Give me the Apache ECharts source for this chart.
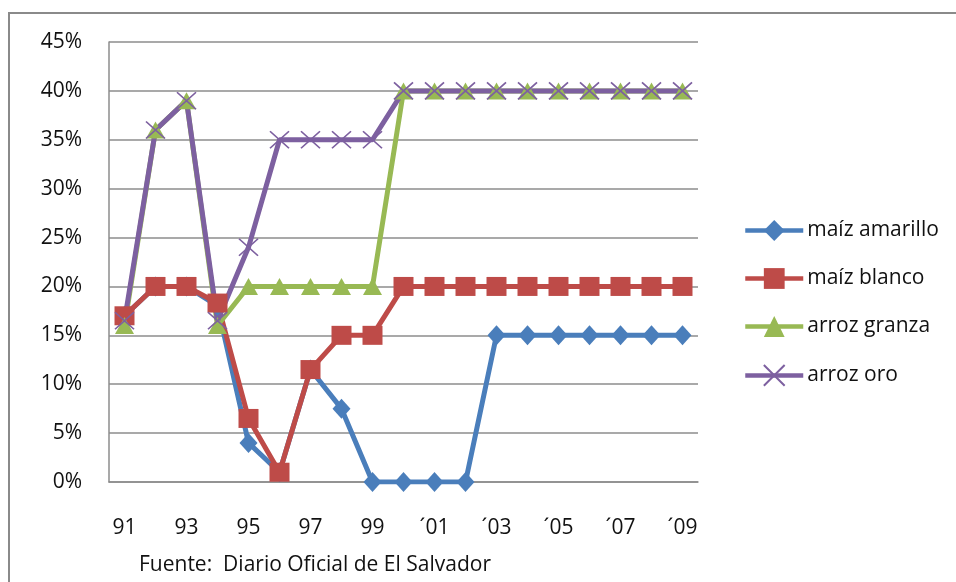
<!DOCTYPE html>
<html>
<head>
<meta charset="utf-8">
<script src="https://cdn.jsdelivr.net/npm/echarts@6/dist/echarts.min.js"></script>
<style>
  html, body { margin: 0; padding: 0; background: #fff; }
  #chart { width: 956px; height: 582px; }
</style>
</head>
<body>
<div id="chart"></div>
<script>
// Years 1991–2009
const years = ['91', '92', '93', '94', '95', '96', '97', '98', '99',
  '´00', '´01', '´02', '´03', '´04', '´05', '´06', '´07', '´08', '´09'];

// Tariff rates (%)
const maizAmarillo = [17, 20, 20, 18, 4, 1, 11.5, 7.5, 0, 0, 0, 0, 15, 15, 15, 15, 15, 15, 15];
const maizBlanco   = [17, 20, 20, 18.3, 6.5, 1, 11.5, 15, 15, 20, 20, 20, 20, 20, 20, 20, 20, 20, 20];
const arrozGranza  = [16, 36, 39, 16, 20, 20, 20, 20, 20, 40, 40, 40, 40, 40, 40, 40, 40, 40, 40];
const arrozOro     = [16.5, 36, 39, 16.5, 24, 35, 35, 35, 35, 40, 40, 40, 40, 40, 40, 40, 40, 40, 40];

const seriesNames = ['maíz amarillo', 'maíz blanco', 'arroz granza', 'arroz oro'];
const sourceNote = 'Fuente:  Diario Oficial de El Salvador';

const FONT = 'Open Sans';
const GRID_GREY = '#8c8c8c';

const crossPath = 'path://M0,0 L10,10 M10,0 L0,10';

function lineSeries(name, data, color, symbol, size, extra) {
  return Object.assign({
    name: name,
    type: 'line',
    data: data,
    symbol: symbol,
    symbolSize: size,
    showAllSymbol: true,
    lineStyle: { color: color, width: 5 },
    itemStyle: { color: color },
    emphasis: { disabled: true },
    animation: false
  }, extra || {});
}

const chart = echarts.init(document.getElementById('chart'), null, { renderer: 'canvas' });

chart.setOption({
  backgroundColor: '#ffffff',
  textStyle: { fontFamily: FONT },
  grid: { left: 109, right: 258, top: 42, bottom: 100, containLabel: false },
  graphic: [
    {
      type: 'rect',
      shape: { x: 9, y: 13, width: 1000, height: 1000 },
      style: { fill: 'none', stroke: '#8a8a8a', lineWidth: 2 },
      silent: true
    },
    {
      type: 'text',
      left: 139,
      top: 555,
      style: { text: sourceNote, font: '21px "' + FONT + '"', fill: '#111' }
    }
  ],
  legend: {
    orient: 'vertical',
    left: 738,
    top: 215,
    itemWidth: 58,
    itemHeight: 26,
    itemGap: 27,
    selectedMode: false,
    data: seriesNames,
    lineStyle: { width: 4.5 },
    textStyle: { fontFamily: FONT, fontSize: 21, color: '#111', padding: [0, 0, 0, -1] }
  },
  xAxis: {
    type: 'category',
    data: years,
    boundaryGap: true,
    axisLine: { show: true, lineStyle: { color: GRID_GREY, width: 1.5 } },
    axisTick: { show: false },
    axisLabel: {
      interval: 1,
      margin: 36,
      fontFamily: FONT,
      fontSize: 21,
      color: '#111'
    },
    splitLine: { show: false }
  },
  yAxis: {
    type: 'value',
    min: 0,
    max: 45,
    interval: 5,
    axisLine: { show: true, lineStyle: { color: GRID_GREY, width: 1.5 } },
    axisTick: { show: false },
    axisLabel: {
      margin: 27,
      fontFamily: FONT,
      fontSize: 21,
      color: '#111',
      formatter: '{value}%'
    },
    splitLine: { show: true, lineStyle: { color: GRID_GREY, width: 1.5 } }
  },
  series: [
    lineSeries(seriesNames[0], maizAmarillo, '#4a7ebb', 'diamond', [18, 20]),
    lineSeries(seriesNames[1], maizBlanco, '#be4b48', 'rect', [20, 19]),
    lineSeries(seriesNames[2], arrozGranza, '#98b954', 'triangle', [19, 17]),
    lineSeries(seriesNames[3], arrozOro, '#7d60a0', crossPath, [19, 17], {
      itemStyle: { color: '#7d60a0', borderColor: '#7d60a0', borderWidth: 1.6 }
    })
  ]
});
</script>
</body>
</html>
